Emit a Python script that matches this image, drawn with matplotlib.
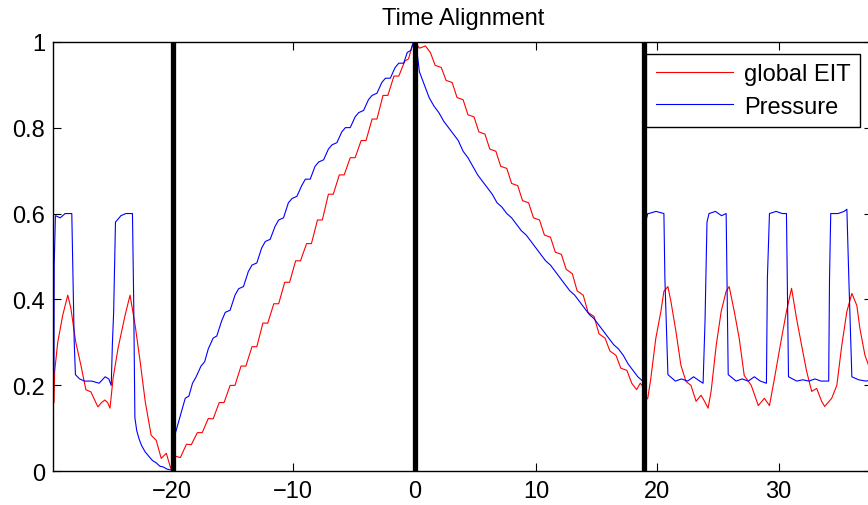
import matplotlib
matplotlib.use("Agg")
import matplotlib.pyplot as plt
import numpy as np

plt.rcParams['font.family'] = ['Liberation Sans', 'DejaVu Sans']

# event markers (thick black lines)
events = [-19.9, 0.0, 18.9]

# --- global EIT (red) ---
eit_left_x = [-29.72, -29.66, -29.41, -29.0, -28.58, -28.33, -27.92, -27.5, -27.09, -26.68,
              -26.1, -25.8, -25.52, -25.3, -25.1, -24.85, -24.44, -23.86, -23.45, -23.03,
              -22.62, -22.2, -21.71, -21.29, -20.88, -20.46]
eit_left_y = [0.16, 0.233, 0.30, 0.363, 0.41, 0.38, 0.30, 0.247, 0.19, 0.185,
              0.15, 0.16, 0.166, 0.16, 0.147, 0.216, 0.286, 0.363, 0.41, 0.34,
              0.256, 0.163, 0.084, 0.072, 0.03, 0.042]
eit_up_x = [-20.1, -19.7, -19.3, -18.8, -18.4, -17.9, -17.5, -17.0, -16.6, -16.1,
            -15.7, -15.2, -14.8, -14.3, -13.9, -13.4, -13.0, -12.5, -12.1, -11.6,
            -11.2, -10.7, -10.3, -9.8, -9.4, -8.9, -8.5, -8.0, -7.6, -7.1,
            -6.7, -6.2, -5.8, -5.3, -4.9, -4.4, -4.0, -3.5, -3.1, -2.6,
            -2.2, -1.7, -1.3, -0.8, -0.5, -0.2]
eit_up_y = [0.007, 0.035, 0.032, 0.063, 0.062, 0.09, 0.09, 0.123, 0.122, 0.16,
            0.16, 0.20, 0.20, 0.245, 0.245, 0.29, 0.29, 0.345, 0.345, 0.39,
            0.39, 0.44, 0.44, 0.49, 0.49, 0.53, 0.53, 0.585, 0.585, 0.645,
            0.645, 0.69, 0.69, 0.73, 0.73, 0.77, 0.77, 0.82, 0.82, 0.875,
            0.875, 0.92, 0.92, 0.955, 0.96, 0.99]
eit_down_x = [0.0, 0.4, 0.9, 1.3, 1.7, 2.2, 2.6, 3.1, 3.5, 4.0,
              4.4, 4.9, 5.3, 5.8, 6.2, 6.7, 7.1, 7.6, 8.0, 8.5,
              8.9, 9.4, 9.8, 10.3, 10.7, 11.2, 11.6, 12.1, 12.5, 13.0,
              13.4, 13.9, 14.3, 14.8, 15.2, 15.7, 16.1, 16.6, 17.0, 17.5,
              17.9, 18.3, 18.6, 18.9]
eit_down_y = [1.0, 0.985, 0.99, 0.975, 0.945, 0.94, 0.91, 0.905, 0.87, 0.865,
              0.83, 0.825, 0.79, 0.785, 0.75, 0.745, 0.71, 0.705, 0.67, 0.665,
              0.63, 0.625, 0.59, 0.585, 0.55, 0.545, 0.51, 0.505, 0.47, 0.46,
              0.42, 0.41, 0.37, 0.36, 0.32, 0.31, 0.28, 0.27, 0.24, 0.235,
              0.205, 0.19, 0.205, 0.195]
eit_right_x = [18.95, 19.22, 19.47, 19.88, 20.3, 20.55, 20.88, 21.13, 21.54, 21.95,
               22.37, 22.78, 23.2, 23.61, 23.86, 24.19, 24.44, 24.86, 25.27, 25.68,
               25.93, 26.35, 26.76, 27.17, 27.75, 28.33, 28.83, 29.25, 29.66, 30.24,
               30.65, 31.07, 31.48, 31.9, 32.31, 32.73, 33.14, 33.55, 33.8, 34.38,
               34.8, 35.21, 35.63, 36.04, 36.45, 36.7, 37.12, 37.7]
eit_right_y = [0.163, 0.17, 0.216, 0.309, 0.372, 0.419, 0.43, 0.395, 0.326, 0.247,
               0.209, 0.20, 0.163, 0.177, 0.165, 0.147, 0.186, 0.293, 0.372, 0.419,
               0.43, 0.372, 0.309, 0.223, 0.20, 0.153, 0.17, 0.153, 0.216, 0.309,
               0.372, 0.426, 0.356, 0.293, 0.233, 0.186, 0.193, 0.163, 0.151, 0.17,
               0.20, 0.293, 0.372, 0.414, 0.386, 0.333, 0.27, 0.225]

# --- Pressure (blue) ---
prs_left_x = [-29.72, -29.70, -29.6, -29.2, -28.8, -28.25, -28.15, -28.05, -27.95, -27.6,
              -27.2, -26.6, -26.0, -25.5, -25.2, -25.0, -24.9, -24.8, -24.65, -24.2,
              -23.8, -23.25, -23.15, -23.05, -22.9, -22.7, -22.5, -22.2, -21.9, -21.6,
              -21.3, -21.0, -20.7, -20.4, -20.05]
prs_left_y = [0.23, 0.48, 0.595, 0.59, 0.60, 0.60, 0.45, 0.30, 0.225, 0.215,
              0.21, 0.21, 0.205, 0.22, 0.215, 0.20, 0.30, 0.37, 0.58, 0.595,
              0.60, 0.60, 0.40, 0.125, 0.095, 0.075, 0.06, 0.045, 0.035, 0.025,
              0.02, 0.012, 0.01, 0.005, 0.003]
prs_up_x = [-19.95, -19.8, -19.5, -19.2, -18.9, -18.6, -18.3, -18.0, -17.6, -17.3,
            -17.0, -16.6, -16.3, -15.9, -15.6, -15.2, -14.8, -14.5, -14.1, -13.7,
            -13.4, -13.0, -12.6, -12.3, -11.9, -11.5, -11.2, -10.8, -10.4, -10.1,
            -9.7, -9.3, -9.0, -8.6, -8.2, -7.9, -7.5, -7.1, -6.8, -6.4,
            -6.0, -5.7, -5.3, -4.9, -4.6, -4.2, -3.8, -3.5, -3.1, -2.7,
            -2.4, -2.0, -1.6, -1.3, -0.9, -0.6, -0.3, -0.1]
prs_up_y = [0.01, 0.08, 0.11, 0.14, 0.17, 0.175, 0.205, 0.22, 0.245, 0.255,
            0.285, 0.31, 0.315, 0.35, 0.37, 0.375, 0.41, 0.425, 0.43, 0.465,
            0.48, 0.485, 0.52, 0.535, 0.54, 0.57, 0.585, 0.59, 0.625, 0.635,
            0.64, 0.665, 0.68, 0.68, 0.71, 0.72, 0.725, 0.75, 0.76, 0.765,
            0.79, 0.80, 0.80, 0.825, 0.835, 0.84, 0.865, 0.875, 0.88, 0.905,
            0.915, 0.915, 0.94, 0.95, 0.95, 0.975, 0.98, 1.0]
prs_down_x = [0.1, 0.4, 0.8, 1.2, 1.6, 2.0, 2.4, 2.8, 3.2, 3.6,
              4.0, 4.4, 4.8, 5.2, 5.6, 6.0, 6.4, 6.8, 7.2, 7.6,
              8.0, 8.4, 8.8, 9.2, 9.6, 10.0, 10.4, 10.8, 11.2, 11.6,
              12.0, 12.4, 12.8, 13.2, 13.6, 14.0, 14.4, 14.8, 15.2, 15.6,
              16.0, 16.4, 16.8, 17.2, 17.6, 18.0, 18.4, 18.8]
prs_down_y = [1.0, 0.93, 0.9, 0.87, 0.85, 0.835, 0.815, 0.80, 0.785, 0.77,
              0.745, 0.73, 0.71, 0.69, 0.675, 0.66, 0.645, 0.625, 0.615, 0.60,
              0.59, 0.575, 0.56, 0.55, 0.535, 0.52, 0.505, 0.49, 0.48, 0.465,
              0.45, 0.435, 0.42, 0.41, 0.395, 0.38, 0.365, 0.355, 0.34, 0.325,
              0.31, 0.295, 0.285, 0.27, 0.25, 0.235, 0.22, 0.21]
prs_right_x = [18.95, 19.22, 19.3, 19.9, 20.55, 20.63, 20.8, 20.88, 21.5, 22.0,
               22.5, 23.0, 23.5, 23.78, 23.94, 24.1, 24.27, 24.8, 25.3, 25.68,
               25.77, 25.85, 26.5, 27.0, 27.5, 28.0, 28.5, 29.0, 29.08, 29.25,
               29.8, 30.3, 30.65, 30.74, 30.82, 31.5, 32.0, 32.5, 33.0, 33.5,
               34.13, 34.2, 34.3, 34.9, 35.4, 35.63, 35.79, 36.04, 36.6, 37.2, 37.7]
prs_right_y = [0.57, 0.60, 0.60, 0.605, 0.60, 0.45, 0.30, 0.225, 0.21, 0.215,
               0.21, 0.22, 0.21, 0.205, 0.35, 0.58, 0.60, 0.605, 0.595, 0.60,
               0.40, 0.225, 0.21, 0.215, 0.21, 0.22, 0.21, 0.205, 0.45, 0.60,
               0.605, 0.60, 0.60, 0.40, 0.22, 0.21, 0.213, 0.21, 0.215, 0.21,
               0.21, 0.45, 0.60, 0.60, 0.605, 0.61, 0.45, 0.22, 0.213, 0.21, 0.213]

xticks = [-20, -10, 0, 10, 20, 30]
yticks = [0, 0.2, 0.4, 0.6, 0.8, 1]
ytick_labels = ['0', '0.2', '0.4', '0.6', '0.8', '1']

eit_x = eit_left_x + eit_up_x + eit_down_x + eit_right_x
eit_y = eit_left_y + eit_up_y + eit_down_y + eit_right_y
prs_x = prs_left_x + prs_up_x + prs_down_x + prs_right_x
prs_y = prs_left_y + prs_up_y + prs_down_y + prs_right_y

fig = plt.figure(figsize=(8.68, 5.06), dpi=100)
ax = fig.add_axes([0.0616, 0.0666, 0.943, 0.849])

ax.plot(eit_x, eit_y, color='#ff0000', lw=0.8, label='global EIT')
ax.plot(prs_x, prs_y, color='#0000ff', lw=0.8, label='Pressure')
for e in events:
    ax.axvline(e, color='black', lw=3.8, zorder=5)

ax.set_xlim(-29.76, 37.7)
ax.set_ylim(0, 1)
ax.set_xticks(xticks)
ax.set_yticks(yticks)
ax.set_yticklabels(ytick_labels)
ax.tick_params(direction='in', top=True, right=True, labelsize=17, length=6, width=0.8, pad=6)
for s in ax.spines.values():
    s.set_linewidth(1.0)

ax.set_title('Time Alignment', fontsize=17, pad=13)
leg = ax.legend(loc='upper right', fontsize=17, fancybox=False, framealpha=1,
                edgecolor='black', handlelength=3.3, handletextpad=0.45,
                borderaxespad=0.5, labelspacing=0.45, borderpad=0.4)
leg.get_frame().set_linewidth(1.0)

fig.savefig('out.png', dpi=100)
